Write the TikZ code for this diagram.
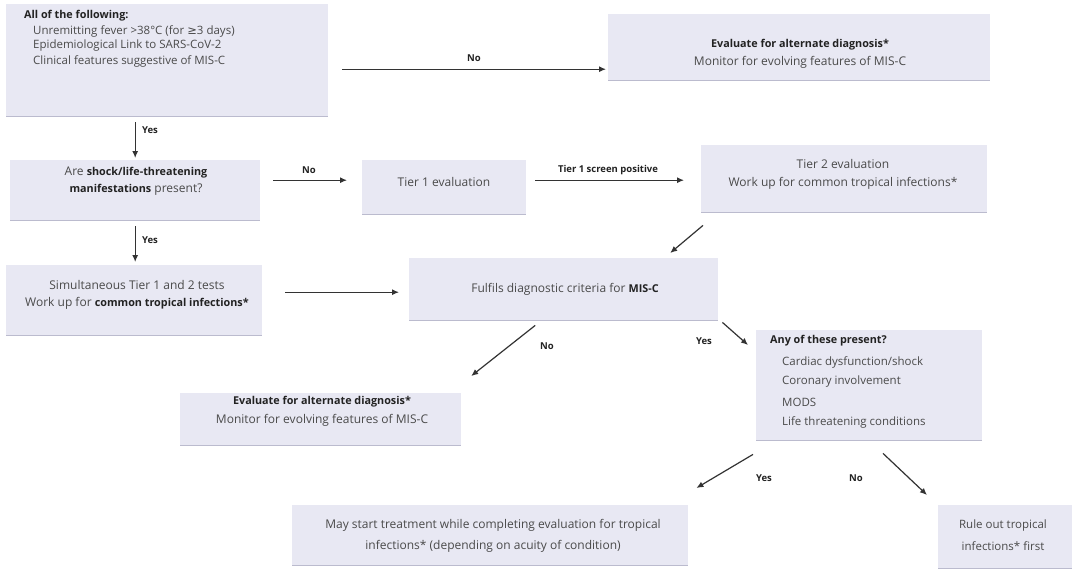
\documentclass[tikz,border=0pt]{standalone}
\usepackage{fontspec}
\setmainfont{Open Sans}
\newfontfamily\symfont{DejaVu Sans}
\usetikzlibrary{arrows.meta,calc}
\definecolor{boxfill}{HTML}{E8E8F3}
\definecolor{boxedge}{HTML}{BBBBCE}
\definecolor{txt}{HTML}{4A4A4A}
\definecolor{txtb}{HTML}{222222}
\definecolor{arrc}{HTML}{333333}
\newcommand{\mybold}[1]{{\fontsize{10.8}{12}\selectfont\bfseries\color{txtb}#1}}
\begin{document}
\begin{tikzpicture}[x=1pt,y=-1pt,
  box/.style={fill=boxfill, draw=none, inner sep=0pt, anchor=north west,
    path picture={\draw[boxedge, line width=1.4pt]
      (path picture bounding box.south west) -- (path picture bounding box.south east);}},
  tx/.style={text=txt, inner sep=0pt, font=\fontsize{12}{14}\selectfont},
  txs/.style={text=txt, inner sep=0pt, font=\fontsize{11.5}{13}\selectfont},
  tb/.style={text=txtb, inner sep=0pt, font=\fontsize{10.8}{12}\selectfont\bfseries},
  lbl/.style={text=txtb, inner sep=0pt, font=\fontsize{9.5}{11}\selectfont\bfseries},
  arr/.style={draw=arrc, line width=1.2pt, -{Latex[length=7pt,width=6pt]}}]
\useasboundingbox (0,0) rectangle (1078,574);
\fill[white] (0,0) rectangle (1078,574);

% boxes
\node[box, minimum width=322pt, minimum height=112pt] (b1) at (6,4) {};
\node[box, minimum width=382pt, minimum height=66pt] (b2) at (608,14) {};
\node[box, minimum width=250pt, minimum height=60pt] (b3) at (10,160) {};
\node[box, minimum width=164pt, minimum height=54pt] (b4) at (362,160) {};
\node[box, minimum width=286pt, minimum height=67pt] (b5) at (701,145) {};
\node[box, minimum width=309pt, minimum height=62pt] (b6) at (409,258) {};
\node[box, minimum width=256pt, minimum height=70pt] (b7) at (6,265) {};
\node[box, minimum width=281pt, minimum height=52pt] (b8) at (180,393) {};
\node[box, minimum width=226pt, minimum height=110pt] (b9) at (756,330) {};
\node[box, minimum width=396pt, minimum height=60pt] (b10) at (292,505) {};
\node[box, minimum width=134pt, minimum height=63pt] (b11) at (938,505) {};

% texts
\node[tb, anchor=west] (t1a) at (24,16) {All of the following:};
\node[txs, anchor=west] (t1b) at (33,31) {Unremitting fever \textgreater38°C (for {\symfont ≥}3 days)};
\node[txs, anchor=west] (t1c) at (33,46) {Epidemiological Link to SARS-CoV-2};
\node[txs, anchor=west] (t1d) at (33,61) {Clinical features suggestive of MIS-C};

\node[tb] (t2a) at (800,45) {Evaluate for alternate diagnosis*};
\node[tx] (t2b) at (800,62) {Monitor for evolving features of MIS-C};

\node[tx] (t3a) at (136,172) {Are \mybold{shock/life-threatening}};
\node[tx] (t3b) at (136,190) {\mybold{manifestations} present?};

\node[tx] (t4) at (444,182) {Tier 1 evaluation};

\node[tx] (t5a) at (843,164) {Tier 2 evaluation};
\node[tx] (t5b) at (843,183) {Work up for common tropical infections*};

\node[tx] (t6) at (565,289) {Fulfils diagnostic criteria for \mybold{MIS-C}};

\node[tx] (t7a) at (137,285) {Simultaneous Tier 1 and 2 tests};
\node[tx] (t7b) at (137,303) {Work up for \mybold{common tropical infections*}};

\node[tb] (t8a) at (322,402) {Evaluate for alternate diagnosis*};
\node[tx] (t8b) at (322,420) {Monitor for evolving features of MIS-C};

\node[tb, anchor=west] (t9a) at (770,341) {Any of these present?};
\node[txs, anchor=west] (t9b) at (782,362) {Cardiac dysfunction/shock};
\node[txs, anchor=west] (t9c) at (782,382) {Coronary involvement};
\node[txs, anchor=west] (t9d) at (782,402) {MODS};
\node[txs, anchor=west] (t9e) at (782,422) {Life threatening conditions};

\node[tx] (t10a) at (493,525) {May start treatment while completing evaluation for tropical};
\node[tx] (t10b) at (493,546) {infections* (depending on acuity of condition)};

\node[txs] (t11a) at (1003,526) {Rule out tropical};
\node[txs] (t11b) at (1003,546) {infections* first};

% connector labels
\node[lbl] (l1) at (474,58) {No};
\node[lbl] (l2) at (150,130) {Yes};
\node[lbl] (l3) at (309,170) {No};
\node[lbl] (l4) at (608,170) {Tier 1 screen positive};
\node[lbl] (l5) at (150,240) {Yes};
\node[lbl] (l6) at (547,346) {No};
\node[lbl] (l7) at (704,341) {Yes};
\node[lbl] (l8) at (764,478) {Yes};
\node[lbl] (l9) at (856,478) {No};

% connectors
\draw[arr] ($(b1.east)+(14,9)$) -- ($(b2.west)+(-2,22)$);
\draw[arr] ($(b1.south)+(-32,6)$) -- ($(b3.north)+(0,-2)$);
\draw[arr] ($(b3.east)+(13,-10)$) -- ($(b4.west)+(-15,-7)$);
\draw[arr] ($(b4.east)+(9,-7)$) -- ($(b5.west)+(-17,1.5)$);
\draw[arr] ($(b5.south west)+(2,13)$) -- ($(b6.north)+(106.5,-5)$);
\draw[arr] ($(b3.south)+(0,6)$) -- ($(b7.north)+(1,-3)$);
\draw[arr] ($(b7.east)+(23,-8)$) -- ($(b6.west)+(-10,3)$);
\draw[arr] ($(b6.south)+(-28.5,5)$) -- ($(b8.north)+(150.5,-17)$);
\draw[arr] ($(b6.south east)+(4,2)$) -- ($(b9.north west)+(-8,15)$);
\draw[arr] ($(b9.south west)+(-3,14)$) -- ($(b10.north east)+(8,-17)$);
\draw[arr] ($(b9.south west)+(127,13)$) -- ($(b11.north west)+(-11,-10)$);
\end{tikzpicture}
\end{document}
